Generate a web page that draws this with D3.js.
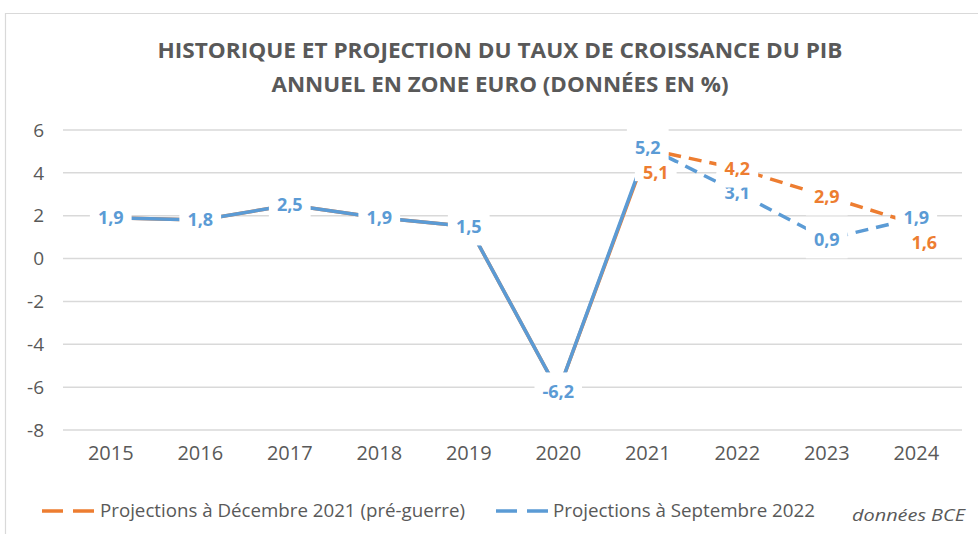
<!DOCTYPE html>
<html>
<head>
<meta charset="utf-8">
<script src="https://cdn.jsdelivr.net/npm/d3@7"></script>
<style>
  body { margin: 0; background: #fff; }
  svg { display: block; font-family: 'Open Sans', sans-serif; }
</style>
</head>
<body>
<svg id="chart" width="978" height="534"></svg>
<script>
// data
const years = ['2015', '2016', '2017', '2018', '2019', '2020', '2021', '2022', '2023', '2024']
const projDec2021 = [1.9, 1.8, 2.5, 1.9, 1.5, -6.2, 5.1, 4.2, 2.9, 1.6]
const projSep2022 = [1.9, 1.8, 2.5, 1.9, 1.5, -6.2, 5.2, 3.1, 0.9, 1.9]
const yTicks = [-8, -6, -4, -2, 0, 2, 4, 6]
const firstProjYear = '2021'
const titleLines = [
  'HISTORIQUE ET PROJECTION DU TAUX DE CROISSANCE DU PIB',
  'ANNUEL EN ZONE EURO (DONNÉES EN %)',
]
const seriesNames = ['Projections à Décembre 2021 (pré-guerre)', 'Projections à Septembre 2022']
const sourceNote = 'données BCE'

const BLUE = '#5B9BD5'
const ORANGE = '#ED7D31'
const TEXT = '#595959'
const GRID = '#D9D9D9'

const svg = d3.select('#chart')

// NOTE: chart frame (only top and left edges visible in the crop)
svg.append('path')
  .attr('d', 'M5.5,534 V13.5 H978')
  .attr('fill', 'none')
  .attr('stroke', GRID)
  .attr('stroke-width', 1.2)

// NOTE: title
svg.append('g')
  .selectAll('text')
  .data(titleLines)
  .join('text')
  .attr('x', 500)
  .attr('y', (d, i) => 58 + i * 34)
  .attr('text-anchor', 'middle')
  .attr('font-size', 22)
  .attr('font-weight', 'bold')
  .attr('fill', TEXT)
  .attr('textLength', (d, i) => (i === 0 ? 685 : 457))
  .attr('lengthAdjust', 'spacingAndGlyphs')
  .text(d => d)

// NOTE: scales
const x = d3.scaleBand().domain(years).range([66, 961])
const cx = d => x(d) + x.bandwidth() / 2
const y = d3.scaleLinear().domain([-8, 6]).range([430, 130])

// NOTE: gridlines + y tick labels
const yAxis = svg.append('g')
yAxis.selectAll('line')
  .data(yTicks)
  .join('line')
  .attr('x1', 63)
  .attr('x2', 962)
  .attr('y1', d => y(d))
  .attr('y2', d => y(d))
  .attr('stroke', GRID)
  .attr('stroke-width', 1.5)
yAxis.selectAll('text')
  .data(yTicks)
  .join('text')
  .attr('x', 44)
  .attr('y', d => y(d))
  .attr('dy', '0.35em')
  .attr('text-anchor', 'end')
  .attr('font-size', 19)
  .attr('fill', TEXT)
  .text(d => d)

// NOTE: x tick labels
svg.append('g')
  .selectAll('text')
  .data(years)
  .join('text')
  .attr('x', d => cx(d))
  .attr('y', 460)
  .attr('text-anchor', 'middle')
  .attr('font-size', 20)
  .attr('fill', TEXT)
  .text(d => d)

// NOTE: lines - solid for history, dashed from the first projection year
const splitIdx = years.indexOf(firstProjYear)
const line = d3.line().x(d => cx(d.year)).y(d => y(d.value))
const toPts = values => values.map((v, i) => ({ year: years[i], value: v }))

const series = [
  { values: projDec2021, color: ORANGE },
  { values: projSep2022, color: BLUE },
]

const lineGroup = svg.append('g')
series.forEach(s => {
  const pts = toPts(s.values)
  lineGroup.append('path')
    .attr('d', line(pts.slice(0, splitIdx + 1)))
    .attr('fill', 'none')
    .attr('stroke', s.color)
    .attr('stroke-width', 3.5)
    .attr('stroke-linejoin', 'round')
  lineGroup.append('path')
    .attr('d', line(pts.slice(splitIdx)))
    .attr('fill', 'none')
    .attr('stroke', s.color)
    .attr('stroke-width', 3.5)
    .attr('stroke-dasharray', '13,8')
})

// NOTE: data labels with white boxes; orange labels only for projections,
// pushed below-right of the blue one when the two values are close
const labels = []
projSep2022.forEach((v, i) => {
  labels.push({ year: years[i], value: v, color: BLUE, dx: 0, dy: 0 })
})
projDec2021.forEach((v, i) => {
  if (i < splitIdx) return
  const close = Math.abs(v - projSep2022[i]) < 0.5
  const dy = close ? y(projSep2022[i]) - y(v) + 25 : 0
  labels.push({ year: years[i], value: v, color: ORANGE, dx: close ? 8 : 0, dy })
})

const fmt = v => String(v).replace('.', ',')
const labelGroup = svg.append('g')
const lbl = labelGroup.selectAll('g')
  .data(labels)
  .join('g')
  .attr('transform', d => `translate(${cx(d.year) + d.dx},${y(d.value) + d.dy})`)

lbl.append('rect')
  .attr('fill', '#fff')
lbl.append('text')
  .attr('text-anchor', 'middle')
  .attr('dy', '0.36em')
  .attr('font-size', 18)
  .attr('font-weight', 'bold')
  .attr('fill', d => d.color)
  .text(d => fmt(d.value))

lbl.each(function (d) {
  const g = d3.select(this)
  const w = g.select('text').node().getComputedTextLength()
  // NOTE: shifted orange label gets a slim box so it won't hide the blue one
  const h = d.dy ? 18 : 38
  g.select('rect')
    .attr('x', -w / 2 - 8)
    .attr('y', -h / 2)
    .attr('width', w + 16)
    .attr('height', h)
})

// NOTE: legend
const legend = svg.append('g')
const legendItems = [
  { name: seriesNames[0], color: ORANGE, x0: 42, tx: 100, len: 365 },
  { name: seriesNames[1], color: BLUE, x0: 496, tx: 553, len: 262 },
]
legendItems.forEach(it => {
  legend.append('line')
    .attr('x1', it.x0)
    .attr('x2', it.x0 + 55)
    .attr('y1', 511)
    .attr('y2', 511)
    .attr('stroke', it.color)
    .attr('stroke-width', 3.5)
    .attr('stroke-dasharray', '21,10')
  legend.append('text')
    .attr('x', it.tx)
    .attr('y', 511)
    .attr('dy', '0.35em')
    .attr('font-size', 18)
    .attr('fill', TEXT)
    .attr('textLength', it.len)
    .attr('lengthAdjust', 'spacingAndGlyphs')
    .text(it.name)
})

svg.append('text')
  .attr('x', 965)
  .attr('y', 515)
  .attr('dy', '0.35em')
  .attr('text-anchor', 'end')
  .attr('font-size', 17)
  .attr('font-style', 'italic')
  .attr('fill', TEXT)
  .attr('textLength', 113)
  .attr('lengthAdjust', 'spacingAndGlyphs')
  .text(sourceNote)
</script>
</body>
</html>
